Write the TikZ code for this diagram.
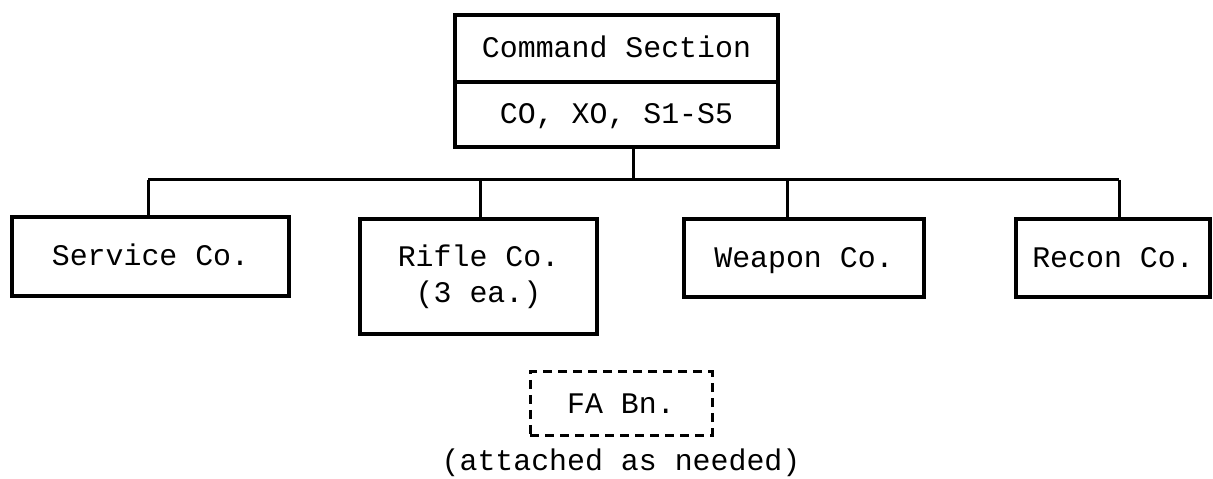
\documentclass[tikz,border=0pt]{standalone}
\usepackage{fontspec}
\setmonofont{Liberation Mono}
\begin{document}
\begin{tikzpicture}[x=1bp,y=-1bp,
  box/.style={draw,line width=3.5bp,minimum width=#1,inner sep=0pt,font=\ttfamily\fontsize{30}{36}\selectfont,align=center,text height=21bp,text depth=2bp},
  bus/.style={line width=3bp},
  label/.style={font=\ttfamily\fontsize{30}{36}\selectfont}]
\useasboundingbox (0,0) rectangle (1213,479);
\node[box=323bp,minimum height=67bp] (cmd) at (616.5,48.5) {Command Section};
\node[box=323bp,minimum height=65bp] (staff) at (616.5,114.5) {CO, XO, S1-S5};
\node[box=277bp,minimum height=79bp] (svc) at (150.5,256.5) {Service Co.};
\node[box=237bp,minimum height=115bp,text height=,text depth=] (rifle) at (478.5,276.5) {Rifle Co.\\(3 ea.)};
\node[box=240bp,minimum height=78bp] (weap) at (804,258) {Weapon Co.};
\node[box=194bp,minimum height=78bp] (recon) at (1113,258) {Recon Co.};
\node[box=182bp,minimum height=63bp,dashed,dash pattern=on 9bp off 6bp,line width=3bp] (fa) at (621,403.5) {FA Bn.};
\node[label] (att) at (621,463) {(attached as needed)};
\coordinate (b0) at (633,180);
\coordinate (b1) at (148,180);
\coordinate (b2) at (480,180);
\coordinate (b3) at (787,180);
\coordinate (b4) at (1119,180);
\draw[bus] (staff.south -| b0) -- (b0);
\draw[bus] (b1) -- (b4);
\draw[bus] (b1) -- (b1 |- svc.north);
\draw[bus] (b2) -- (b2 |- rifle.north);
\draw[bus] (b3) -- (b3 |- weap.north);
\draw[bus] (b4) -- (b4 |- recon.north);
\end{tikzpicture}
\end{document}
